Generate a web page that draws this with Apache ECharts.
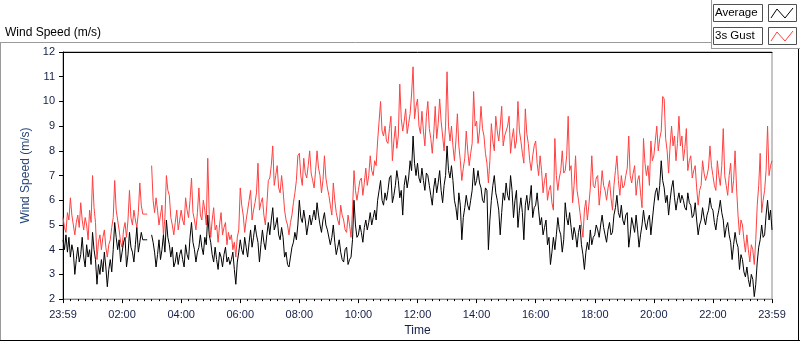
<!DOCTYPE html>
<html>
<head>
<meta charset="utf-8">
<script src="https://cdn.jsdelivr.net/npm/echarts@6/dist/echarts.min.js"></script>
<style>
  html, body { margin: 0; padding: 0; background: #fff; }
  #chart { width: 800px; height: 342px; }
</style>
</head>
<body>
<div id="chart"></div>
<script>
// one reading every 3 minutes, from 23:59 to 23:59 next day
const stepMin = 3;
const tickLabels = ["23:59", "02:00", "04:00", "06:00", "08:00", "10:00", "12:00",
  "14:00", "16:00", "18:00", "20:00", "22:00", "23:59"];

// Average (m/s), 20 values per hour
const avgSpeed = [
  4.4, 4.0, 4.6, 3.9, 4.5, 3.7, 4.2, 3.9, 3.0, 3.6, 4.1, 3.5, 3.8, 4.5, 3.7, 3.3, 4.2, 3.7, 4.0, 3.4,
  4.7, 4.0, 3.6, 2.6, 3.4, 3.0, 3.6, 3.1, 3.9, 3.3, 2.5, 3.2, 3.6, 3.1, 4.0, 5.1, 4.5, 4.0, 4.4, 3.5,
  3.9, 4.3, 4.5, 3.3, 3.8, 4.7, 4.1, 3.9, 3.5, 4.2, 4.9, 3.9, 4.3, 4.7, 4.4, 4.4, 4.4, 4.4, null, null,
  4.6, 4.3, 3.9, 3.3, 3.8, 4.4, 3.6, 4.0, 4.6, 3.9, 5.2, 4.5, 4.2, 3.7, 4.1, 3.3, 3.5, 3.9, 3.4, 3.8,
  4.0, 3.6, 3.3, 4.2, 3.8, 3.6, 4.5, 5.1, 4.3, 4.0, 3.5, 3.9, 4.1, 4.6, 4.1, 3.8, 4.5, 4.2, 5.4, 4.6,
  4.3, 3.8, 3.5, 4.1, 3.6, 3.2, 3.9, 3.7, 3.3, 3.8, 4.1, 3.5, 3.7, 3.4, 3.6, 3.9, 3.2, 2.6, 3.5, 3.9,
  4.4, 4.0, 3.8, 4.5, 4.1, 3.7, 4.3, 4.8, 4.1, 4.5, 5.0, 4.6, 4.3, 3.5, 4.2, 4.8, 4.3, 4.0, 4.6, 5.1,
  4.6, 5.2, 5.7, 4.8, 5.0, 5.3, 4.6, 4.4, 4.9, 4.5, 3.7, 3.9, 3.4, 3.3, 3.7, 4.1, 4.3, 4.7, 4.4, 5.0,
  6.0, 5.3, 5.1, 5.6, 5.2, 4.6, 5.0, 5.4, 5.0, 5.3, 5.6, 5.2, 5.9, 5.4, 5.0, 4.7, 5.2, 5.5, 5.0, 4.8,
  4.8, 4.2, 4.5, 5.0, 4.3, 3.8, 4.1, 4.4, 3.9, 3.6, 3.5, 4.0, 4.1, 3.4, 3.6, 3.7, 4.4, 6.0, 5.0, 4.5,
  4.6, 5.0, 4.7, 4.3, 4.9, 5.2, 4.8, 5.1, 5.5, 5.0, 5.3, 5.6, 5.2, 6.0, 6.4, 6.8, 6.0, 5.8, 6.3, 6.0,
  6.4, 6.9, 7.0, 5.9, 6.2, 6.6, 7.2, 6.8, 6.1, 6.4, 5.4, 6.6, 7.0, 6.5, 6.9, 7.6, 7.2, 8.6, 7.5, 7.0,
  7.5, 6.9, 6.7, 7.3, 6.8, 6.4, 7.1, 7.0, 6.6, 6.2, 5.8, 6.5, 6.9, 6.3, 6.7, 7.2, 6.4, 5.9, 6.6, 7.0,
  8.2, 7.2, 6.9, 7.4, 6.8, 6.0, 5.7, 5.2, 6.3, 5.8, 4.4, 5.3, 5.7, 6.2, 5.8, 5.6, 6.0, 6.4, 7.3, 6.6,
  6.8, 7.2, 6.7, 6.5, 6.0, 5.9, 6.5, 6.4, 4.0, 5.2, 6.0, 6.6, 7.0, 6.3, 6.0, 5.6, 4.6, 5.5, 6.3, 6.0,
  6.7, 6.2, 6.0, 7.0, 6.4, 5.3, 6.0, 6.4, 4.9, 5.6, 6.1, 5.5, 4.4, 5.8, 6.2, 5.6, 6.0, 6.6, 5.3, 5.7,
  5.8, 6.3, 5.6, 5.0, 5.3, 4.6, 4.9, 5.2, 4.2, 4.5, 3.4, 3.9, 4.5, 4.0, 4.6, 5.3, 4.8, 4.6, 3.9, 4.4,
  5.9, 5.3, 5.0, 5.5, 4.9, 4.4, 4.9, 4.6, 4.1, 4.7, 5.0, 4.2, 3.8, 3.2, 3.9, 4.3, 4.0, 4.8, 4.2, 4.5,
  4.6, 5.0, 4.8, 4.5, 5.0, 5.4, 4.9, 4.6, 4.3, 4.8, 5.1, 4.6, 4.7, 5.4, 5.7, 6.2, 5.5, 5.3, 5.8, 5.2,
  5.0, 5.4, 5.5, 4.1, 4.6, 5.3, 5.0, 4.7, 5.4, 4.8, 4.1, 4.6, 5.0, 5.6, 5.1, 4.8, 5.2, 5.4, 4.6, 5.2,
  5.8, 6.3, 6.5, 6.0, 6.6, 7.6, 6.8, 6.5, 5.9, 6.2, 5.4, 6.0, 6.5, 6.8, 6.1, 5.6, 6.0, 6.3, 5.9, 6.2,
  6.0, 5.7, 5.6, 6.3, 5.9, 5.8, 5.3, 5.4, 5.9, 5.2, 4.6, 5.0, 5.2, 5.7, 5.3, 5.0, 5.4, 5.6, 6.1, 5.7,
  5.6, 5.1, 4.8, 5.3, 5.6, 6.0, 5.5, 5.2, 4.5, 4.9, 5.1, 4.6, 4.3, 3.6, 4.2, 4.7, 4.3, 4.1, 3.2, 3.8,
  3.6, 3.1, 2.9, 3.3, 2.8, 2.5, 3.0, 2.8, 2.1, 2.6, 3.5, 4.1, 4.4, 5.0, 4.5, 4.6, 5.4, 6.0, 5.2, 5.6,
  4.8
];

// 3s Gust (m/s)
const gustSpeed = [
  5.3, 4.9, 4.7, 5.5, 5.2, 6.1, 5.4, 5.0, 4.6, 5.1, 5.4, 4.9, 5.9, 5.2, 4.8, 5.3, 5.0, 4.4, 5.6, 5.1,
  7.0, 5.7, 5.1, 3.6, 4.3, 4.6, 4.0, 4.5, 4.8, 4.1, 3.7, 4.2, 4.4, 4.9, 5.3, 6.8, 5.6, 5.2, 4.8, 4.3,
  4.1, 4.8, 5.1, 4.5, 5.2, 6.4, 5.3, 5.0, 5.6, 5.2, 4.9, 5.5, 6.7, 5.8, 5.44, 5.44, 5.44, 5.44, null, null,
  7.4, 6.0, 5.5, 6.1, 5.6, 5.0, 5.4, 5.8, 4.6, 5.3, 7.0, 6.4, 6.2, 5.3, 5.0, 4.6, 5.1, 5.6, 4.8, 5.2,
  5.6, 5.2, 5.0, 6.1, 5.6, 5.3, 6.0, 6.9, 5.5, 5.2, 4.8, 5.5, 6.5, 5.4, 5.2, 6.0, 5.6, 5.0, 7.7, 5.4,
  4.5, 5.2, 5.7, 4.8, 5.0, 4.3, 5.0, 5.5, 4.6, 4.9, 5.1, 4.2, 4.7, 4.4, 4.6, 4.0, 4.3, 3.7, 4.5, 4.8,
  6.5, 5.8, 5.4, 4.7, 5.2, 5.6, 6.0, 6.4, 5.2, 5.6, 5.9, 6.3, 7.5, 5.6, 5.9, 6.1, 5.4, 5.0, 5.8, 6.8,
  6.9, 7.4, 8.2, 6.6, 7.0, 7.4, 6.5, 6.3, 7.0, 6.4, 5.6, 5.2, 5.0, 4.6, 5.1, 5.4, 5.9, 6.3, 6.8, 7.8,
  7.9, 7.0, 6.6, 7.7, 7.1, 6.9, 7.4, 8.0, 7.1, 6.8, 6.5, 7.2, 8.0, 7.3, 7.0, 6.3, 6.8, 7.8, 6.9, 6.5,
  6.2, 5.8, 5.4, 6.7, 6.0, 5.5, 5.2, 5.0, 5.8, 5.4, 5.2, 4.8, 4.7, 5.4, 5.0, 4.5, 5.6, 7.2, 6.4, 6.0,
  6.4, 6.8, 6.9, 6.2, 6.7, 7.3, 6.6, 7.0, 7.8, 7.2, 7.0, 7.6, 7.4, 8.4, 9.2, 10.0, 8.8, 8.6, 9.0, 8.4,
  8.3, 8.9, 9.4, 7.6, 8.4, 9.0, 8.1, 8.6, 10.7, 9.3, 8.8, 9.2, 9.7, 8.7, 9.1, 9.5, 10.3, 11.4, 9.3, 9.8,
  10.1, 9.0, 8.7, 9.6, 8.8, 8.2, 9.4, 10.0, 8.9, 8.5, 7.9, 8.7, 9.8, 8.5, 9.1, 10.1, 9.2, 8.6, 8.0, 9.0,
  11.2, 9.0, 8.4, 9.0, 8.2, 7.6, 8.4, 9.5, 8.2, 7.6, 6.8, 7.3, 7.7, 8.8, 8.0, 7.4, 7.9, 8.3, 10.4, 9.0,
  9.2, 8.3, 8.8, 9.8, 8.9, 8.6, 7.9, 7.5, 6.7, 7.6, 9.1, 8.4, 8.0, 9.4, 8.8, 8.4, 9.0, 9.8, 8.2, 8.6,
  8.6, 9.0, 9.4, 7.9, 8.5, 8.9, 8.1, 8.4, 10.0, 8.8, 8.4, 7.9, 7.5, 9.7, 8.7, 8.3, 7.6, 7.2, 7.8, 8.2,
  8.4, 7.5, 7.0, 7.8, 7.2, 6.3, 6.8, 7.1, 6.0, 6.4, 6.6, 5.9, 5.6, 8.5, 7.0, 6.4, 6.9, 7.2, 8.0, 7.1,
  7.2, 7.8, 9.4, 7.2, 7.4, 5.9, 6.6, 7.8, 6.4, 6.0, 5.5, 5.0, 4.5, 5.6, 6.0, 5.2, 5.8, 6.5, 7.8, 6.6,
  6.5, 6.9, 7.0, 5.8, 6.4, 7.2, 6.6, 6.4, 6.0, 6.5, 6.8, 6.1, 5.6, 6.6, 7.2, 7.8, 6.8, 6.2, 7.0, 6.5,
  6.6, 7.0, 7.3, 8.6, 7.0, 6.7, 7.1, 7.4, 6.2, 6.8, 7.0, 6.3, 5.7, 8.5, 7.5, 7.0, 7.4, 6.6, 8.4, 7.6,
  7.8, 8.4, 9.0, 8.0, 8.5, 8.8, 10.2, 10.1, 8.5, 8.0, 7.1, 8.2, 9.0, 8.2, 8.6, 7.6, 8.3, 9.4, 8.2, 8.6,
  7.6, 8.1, 8.9, 7.2, 7.6, 7.8, 6.9, 7.2, 7.4, 6.5, 5.8, 6.4, 6.6, 7.6, 7.1, 6.8, 7.0, 7.3, 8.2, 7.4,
  7.0, 6.6, 6.4, 7.6, 7.0, 6.6, 7.4, 8.9, 7.0, 6.6, 6.2, 7.0, 7.5, 6.3, 6.8, 8.0, 6.5, 5.4, 4.6, 5.2,
  5.0, 4.4, 3.9, 4.6, 4.0, 3.5, 4.2, 4.0, 3.4, 4.4, 5.8, 6.6, 7.9, 5.5, 6.0, 6.4, 7.2, 9.0, 7.0, 7.4,
  7.6
];

const labelColor = "#141e46";
const font = "Liberation Sans";

function pairs(values) {
  return values.map((v, i) => [i * stepMin, v]);
}

// little zigzag drawn in the legend sample boxes
function legendIcon(y, color) {
  return {
    type: "polyline",
    shape: { points: [[771, y + 12], [777, y + 3], [785, y + 12], [793, y + 2]] },
    style: { stroke: color, lineWidth: 1, fill: null }
  };
}

const chart = echarts.init(document.getElementById("chart"), null, { renderer: "canvas" });

chart.setOption({
  animation: false,
  grid: { left: 63, right: 28, top: 52, bottom: 40, show: true, borderColor: "#8a8a8a", borderWidth: 1 },
  xAxis: [
    {
      type: "value", min: 0, max: 1440, interval: 120,
      name: "Time", nameLocation: "middle", nameGap: 24,
      nameTextStyle: { color: labelColor, fontFamily: font, fontSize: 12 },
      axisLine: { show: true, onZero: false, lineStyle: { color: "#8a8a8a" } },
      axisTick: { show: true, length: 4, lineStyle: { color: "#000" } },
      minorTick: { show: true, splitNumber: 8, length: 2, lineStyle: { color: "#000" } },
      splitLine: { show: false },
      axisLabel: {
        color: labelColor, fontFamily: font, fontSize: 11, margin: 10,
        formatter: (v) => tickLabels[Math.round(v / 120)]
      }
    },
    {
      type: "value", position: "top", min: 0, max: 1440,
      axisLine: { show: true, lineStyle: { color: "#000" } },
      axisTick: { show: false }, axisLabel: { show: false }, splitLine: { show: false }
    }
  ],
  yAxis: {
    type: "value", min: 2, max: 12, interval: 1,
    name: "Wind Speed (m/s)", nameLocation: "middle", nameGap: 25,
    nameTextStyle: { color: "#26477a", fontFamily: font, fontSize: 12 },
    axisLine: { show: true, lineStyle: { color: "#000" } },
    axisTick: { show: true, length: 4, lineStyle: { color: "#000" } },
    splitLine: { show: false },
    axisLabel: { color: labelColor, fontFamily: font, fontSize: 11, margin: 8 }
  },
  series: [
    {
      name: "3s Gust", type: "line", data: pairs(gustSpeed),
      symbol: "none", connectNulls: false,
      lineStyle: { color: "#ff4040", width: 1 }
    },
    {
      name: "Average", type: "line", data: pairs(avgSpeed),
      symbol: "none", connectNulls: false,
      lineStyle: { color: "#000000", width: 1 }
    }
  ],
  graphic: [
    // outer frame
    { type: "line", shape: { x1: 0, y1: 42.5, x2: 711, y2: 42.5 }, style: { stroke: "#9a9a9a" } },
    { type: "line", shape: { x1: 0.5, y1: 42, x2: 0.5, y2: 341 }, style: { stroke: "#9a9a9a" } },
    { type: "line", shape: { x1: 0, y1: 340.5, x2: 800, y2: 340.5 }, style: { stroke: "#000" } },
    { type: "line", shape: { x1: 798.5, y1: 49, x2: 798.5, y2: 341 }, style: { stroke: "#000" } },
    // legend panel
    { type: "line", shape: { x1: 711.5, y1: 0, x2: 711.5, y2: 49 }, style: { stroke: "#9a9a9a" } },
    { type: "line", shape: { x1: 711, y1: 48.5, x2: 800, y2: 48.5 }, style: { stroke: "#9a9a9a" } },
    { type: "rect", shape: { x: 713.5, y: 4.5, width: 49, height: 17 }, style: { fill: "#fff", stroke: "#505050" } },
    { type: "rect", shape: { x: 768.5, y: 4.5, width: 28, height: 17 }, style: { fill: "#fff", stroke: "#505050" } },
    { type: "rect", shape: { x: 713.5, y: 27.5, width: 49, height: 17 }, style: { fill: "#fff", stroke: "#505050" } },
    { type: "rect", shape: { x: 768.5, y: 27.5, width: 28, height: 17 }, style: { fill: "#fff", stroke: "#505050" } },
    { type: "text", x: 715, y: 6.5, style: { text: "Average", fill: "#000", font: "11.5px " + font } },
    { type: "text", x: 715, y: 29.5, style: { text: "3s Gust", fill: "#000", font: "11.5px " + font } },
    legendIcon(6, "#000"),
    legendIcon(29, "#ff4040"),
    // chart title
    { type: "text", x: 5, y: 27, style: { text: "Wind Speed (m/s)", fill: "#000", font: "12px " + font } }
  ]
});
</script>
</body>
</html>
